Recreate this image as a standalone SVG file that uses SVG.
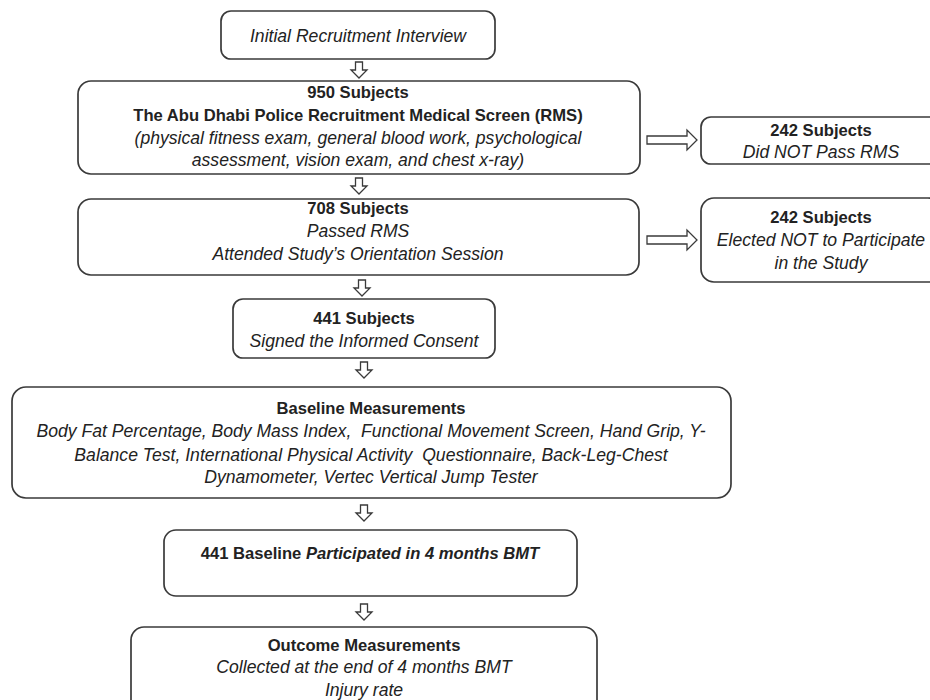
<svg xmlns="http://www.w3.org/2000/svg" width="930" height="700" viewBox="0 0 930 700">
<style>
.box{fill:#fff;stroke:#3a3a3a;stroke-width:1.7}
.arr{fill:#fff;stroke:#3a3a3a;stroke-width:1.3;stroke-linejoin:miter}
text{font-family:"Liberation Sans",Arial,sans-serif;fill:#222;text-anchor:middle}
.b{font-weight:bold;font-size:16.6px}
.i{font-style:italic;font-size:17.6px}
.bi{font-weight:bold;font-style:italic}
</style>
<rect width="930" height="700" fill="#fff"/>
<g id="connectors">
<path class="arr" d="M355.5,62 H362.5 V70 H367 L359,78 L351,70 H355.5 Z"/>
<path class="arr" d="M355.5,178 H362.5 V186 H367 L359,194 L351,186 H355.5 Z"/>
<path class="arr" d="M358.5,280 H365.5 V288 H370 L362,296 L354,288 H358.5 Z"/>
<path class="arr" d="M360.5,362 H367.5 V370 H372 L364,378 L356,370 H360.5 Z"/>
<path class="arr" d="M360.5,505 H367.5 V513 H372 L364,521 L356,513 H360.5 Z"/>
<path class="arr" d="M360.5,604 H367.5 V612 H372 L364,620 L356,612 H360.5 Z"/>
<path class="arr" d="M647,136 H687 V130 L697,140 L687,150 V144 H647 Z"/>
<path class="arr" d="M647,236 H687 V230 L697,240 L687,250 V244 H647 Z"/>
</g>
<g id="n-initial">
<rect class="box" x="221" y="11" width="274" height="48" rx="10"/>
<text class="i" x="358" y="42">Initial Recruitment Interview</text>
</g>
<g id="n-950">
<rect class="box" x="78" y="81" width="562" height="93" rx="13"/>
<text class="b" x="358" y="98">950 Subjects</text>
<text class="b" x="358" y="121">The Abu Dhabi Police Recruitment Medical Screen (RMS)</text>
<text class="i" x="358" y="144">(physical fitness exam, general blood work, psychological</text>
<text class="i" x="358" y="166">assessment, vision exam, and chest x-ray)</text>
</g>
<g id="n-242a">
<rect class="box" x="701" y="117" width="240" height="47" rx="10"/>
<text class="b" x="821" y="136">242 Subjects</text>
<text class="i" x="821" y="158">Did NOT Pass RMS</text>
</g>
<g id="n-708">
<rect class="box" x="78" y="199" width="561" height="76" rx="13"/>
<text class="b" x="358" y="214">708 Subjects</text>
<text class="i" x="358" y="237">Passed RMS</text>
<text class="i" x="358" y="260">Attended Study’s Orientation Session</text>
</g>
<g id="n-242b">
<rect class="box" x="701" y="198" width="240" height="84" rx="13"/>
<text class="b" x="821" y="223">242 Subjects</text>
<text class="i" x="821" y="246">Elected NOT to Participate</text>
<text class="i" x="821" y="269">in the Study</text>
</g>
<g id="n-441">
<rect class="box" x="233" y="299" width="262" height="59" rx="10"/>
<text class="b" x="364" y="324">441 Subjects</text>
<text class="i" x="364" y="347">Signed the Informed Consent</text>
</g>
<g id="n-baseline">
<rect class="box" x="12" y="387" width="719" height="111" rx="14"/>
<text class="b" x="371" y="414">Baseline Measurements</text>
<text class="i" x="371" y="437" xml:space="preserve">Body Fat Percentage, Body Mass Index,  Functional Movement Screen, Hand Grip, Y-</text>
<text class="i" x="371" y="461" xml:space="preserve">Balance Test, International Physical Activity  Questionnaire, Back-Leg-Chest</text>
<text class="i" x="371" y="483">Dynamometer, Vertec Vertical Jump Tester</text>
</g>
<g id="n-441baseline">
<rect class="box" x="164" y="530" width="413" height="66" rx="12"/>
<text class="b" x="370" y="559">441 Baseline <tspan class="bi">Participated in 4 months BMT</tspan></text>
</g>
<g id="n-outcome">
<rect class="box" x="131" y="627" width="466" height="90" rx="13"/>
<text class="b" x="364" y="651">Outcome Measurements</text>
<text class="i" x="364" y="673">Collected at the end of 4 months BMT</text>
<text class="i" x="364" y="696">Injury rate</text>
</g>
</svg>
